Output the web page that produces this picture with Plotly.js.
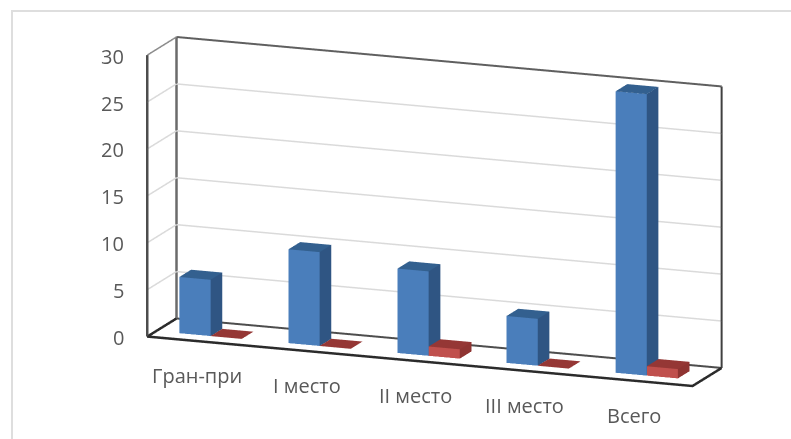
<!DOCTYPE html>
<html>
<head>
<meta charset="utf-8">
<script src="https://cdn.plot.ly/plotly-3.0.1.min.js"></script>
<style>html,body{margin:0;padding:0;background:#fff}#chart{width:791px;height:439px}</style>
</head>
<body>
<div id="chart"></div>
<script>
const categories = ['Гран-при', 'I место', 'II место', 'III место', 'Всего'];
const seriesBlue = [6, 10, 9, 5, 30];
const seriesRed = [0, 0, 1, 0, 1];
const valueTicks = [0, 5, 10, 15, 20, 25, 30];
const valueMax = 30;

const colorsBlue = {front: '#4a7ebb', side: '#2f5583', top: '#33608f'};
const colorsRed = {front: '#c0504d', side: '#8f3432', top: '#953735'};

// Column footprint inside each category and across the depth axis.
const gapShare = 1.5 / 3.5;
const barShare = 1 / 3.5;
const depthFrom = 0.3, depthTo = 0.7;

function boxes(values, slot, colors) {
  const m = {x: [], y: [], z: [], i: [], j: [], k: [], facecolor: []};
  values.forEach((v, c) => {
    const x0 = c + gapShare / 2 + slot * barShare, x1 = x0 + barShare;
    const base = m.x.length;
    [[x0, depthFrom, 0], [x1, depthFrom, 0], [x1, depthTo, 0], [x0, depthTo, 0],
     [x0, depthFrom, v], [x1, depthFrom, v], [x1, depthTo, v], [x0, depthTo, v]].forEach(p => {
      m.x.push(p[0]); m.y.push(p[1]); m.z.push(p[2]);
    });
    const quad = (a, b, d, e, col) => {
      m.i.push(base + a, base + a); m.j.push(base + b, base + d); m.k.push(base + d, base + e);
      m.facecolor.push(col, col);
    };
    if (v > 0) {
      quad(0, 1, 5, 4, colors.front);
      quad(1, 2, 6, 5, colors.side);
    }
    quad(4, 5, 6, 7, colors.top);
  });
  return Object.assign(m, {
    type: 'mesh3d', flatshading: true, hoverinfo: 'skip', showscale: false,
    lighting: {ambient: 1, diffuse: 0, specular: 0, roughness: 1, fresnel: 0},
    lightposition: {x: 0, y: 0, z: 1000}
  });
}

function edges(points, color, width) {
  return {
    type: 'scatter3d', mode: 'lines', hoverinfo: 'skip', showlegend: false,
    x: points.map(p => p[0]), y: points.map(p => p[1]), z: points.map(p => p[2]),
    line: {color: color, width: width}
  };
}

const nCat = categories.length;

// Value gridlines run along the left wall and then the back wall.
const gridlines = valueTicks.slice(1, -1).map(t =>
  edges([[0, 0, t], [0, 1, t], [nCat, 1, t]], '#dadada', 3));

const frame = [
  edges([[0, 0, valueMax], [0, 0, 0]], '#4d4d4d', 5),
  edges([[0, 1, 0], [0, 1, valueMax]], '#6b6b6b', 5),
  edges([[nCat, 1, valueMax], [nCat, 1, 0]], '#404040', 4),
  edges([[0, 1, valueMax], [nCat, 1, valueMax]], '#5f5f5f', 4),
  edges([[0, 0, valueMax], [0, 1, valueMax]], '#8c8c8c', 3),
  edges([[0, 1, 0], [nCat, 1, 0]], '#4d4d4d', 4),
  edges([[nCat, 1, 0], [nCat, 0, 0], [0, 0, 0], [0, 1, 0]], '#2b2b2b', 5)
];

const labelFont = {family: '"Open Sans", "Noto Sans", sans-serif', size: 20, color: '#595959'};
const annotations = [
  ...valueTicks.map(t => ({
    x: 0, y: 0, z: t, text: String(t), showarrow: false, font: labelFont,
    xanchor: 'right', yanchor: 'middle', xshift: -21, yshift: -1
  })),
  ...categories.map((c, i) => ({
    x: i + 0.5, y: 0, z: 0, text: c, showarrow: false, font: labelFont,
    xanchor: 'center', yanchor: 'middle', xshift: -4, yshift: -34
  }))
];

const hiddenAxis = {
  showgrid: false, showticklabels: false, showline: false, zeroline: false, ticks: '',
  showspikes: false, showbackground: false, title: {text: ''}
};

const layout = {
  width: 791, height: 439, margin: {l: 0, r: 0, t: 0, b: 0},
  paper_bgcolor: '#ffffff', showlegend: false,
  shapes: [{
    type: 'rect', xref: 'paper', yref: 'paper', x0: 0.0152, x1: 1.01, y0: -0.01, y1: 0.975,
    line: {color: '#dedede', width: 2}, fillcolor: 'rgba(0,0,0,0)'
  }],
  scene: {
    domain: {x: [0.098, 1], y: [0.036, 1]},
    aspectmode: 'manual',
    aspectratio: {x: 2.76, y: 0.386, z: 1.37},
    camera: {
      projection: {type: 'orthographic'},
      up: {x: 0, y: 0, z: 1},
      center: {x: 0, y: 0, z: 0},
      eye: {x: 0.694, y: -1.814, z: 0.474}
    },
    xaxis: Object.assign({range: [0, nCat]}, hiddenAxis),
    yaxis: Object.assign({range: [0, 1]}, hiddenAxis),
    zaxis: Object.assign({range: [0, valueMax], tickvals: valueTicks}, hiddenAxis),
    annotations: annotations
  }
};

Plotly.newPlot('chart', [boxes(seriesBlue, 0, colorsBlue), boxes(seriesRed, 1, colorsRed), ...gridlines, ...frame], layout,
  {displayModeBar: false});
</script>
</body>
</html>
